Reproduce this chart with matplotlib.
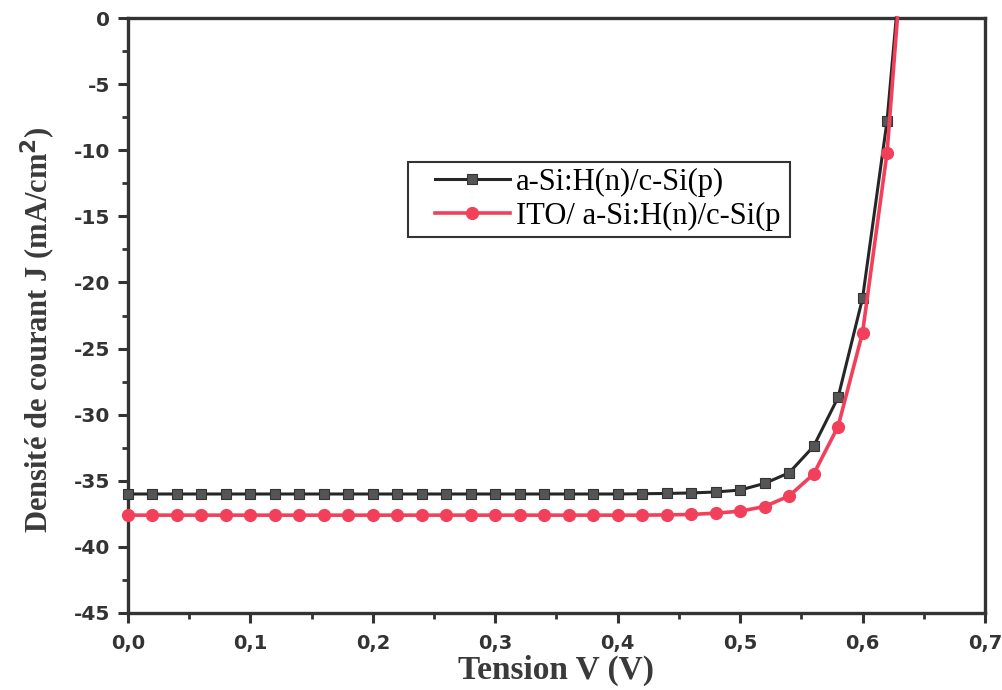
import matplotlib
matplotlib.use("Agg")
import matplotlib.pyplot as plt
from matplotlib.patches import Rectangle
from matplotlib.ticker import MultipleLocator, FuncFormatter

# Tension (V) - measured points, last one is where curve crosses J = 0
tension = [0.00, 0.02, 0.04, 0.06, 0.08, 0.10, 0.12, 0.14, 0.16, 0.18,
           0.20, 0.22, 0.24, 0.26, 0.28, 0.30, 0.32, 0.34, 0.36, 0.38,
           0.40, 0.42, 0.44, 0.46, 0.48, 0.50, 0.52, 0.54, 0.56, 0.58,
           0.60, 0.62]
v_end_black = 0.6275
v_end_red = 0.6285

j_black = [-36.0, -36.0, -36.0, -36.0, -36.0, -36.0, -36.0, -36.0, -36.0, -36.0,
           -36.0, -36.0, -36.0, -36.0, -36.0, -36.0, -36.0, -36.0, -36.0, -36.0,
           -36.0, -35.98, -35.96, -35.92, -35.85, -35.7, -35.2, -34.4, -32.4, -28.7,
           -21.2, -7.8]
j_red = [-37.6, -37.6, -37.6, -37.6, -37.6, -37.6, -37.6, -37.6, -37.6, -37.6,
         -37.6, -37.6, -37.6, -37.6, -37.6, -37.6, -37.6, -37.6, -37.6, -37.6,
         -37.6, -37.6, -37.58, -37.55, -37.45, -37.3, -36.95, -36.15, -34.5, -30.9,
         -23.8, -10.2]

labels = ["a-Si:H(n)/c-Si(p)", "ITO/ a-Si:H(n)/c-Si(p"]

serif = ["Liberation Serif", "DejaVu Serif"]
sans = ["DejaVu Sans"]

fig = plt.figure(figsize=(10.02, 6.90), dpi=100)
ax = fig.add_axes([0.1277, 0.1116, 0.8553, 0.8623])

black = "#262626"
red = "#f2405a"

ax.plot(tension + [v_end_black], j_black + [0.0], color=black, lw=2.2,
        marker="s", ms=7, mfc="#555555", mec="#333333", mew=0.8,
        markevery=list(range(len(tension))), clip_on=False, zorder=3,
        label=labels[0])
ax.plot(tension + [v_end_red], j_red + [0.0], color=red, lw=2.6,
        marker="o", ms=8.5, mfc=red, mec=red,
        markevery=list(range(len(tension))), clip_on=False, zorder=4,
        label=labels[1])

ax.set_xlim(0, 0.7)
ax.set_ylim(-45, 0)
ax.xaxis.set_major_locator(MultipleLocator(0.1))
ax.xaxis.set_minor_locator(MultipleLocator(0.05))
ax.yaxis.set_major_locator(MultipleLocator(5))
ax.yaxis.set_minor_locator(MultipleLocator(2.5))
ax.xaxis.set_major_formatter(FuncFormatter(lambda v, p: f"{v:.1f}".replace(".", ",")))
ax.yaxis.set_major_formatter(FuncFormatter(lambda v, p: f"{v:.0f}"))

for s in ax.spines.values():
    s.set_linewidth(2.4)
    s.set_color("#333333")

ax.tick_params(which="major", direction="out", length=7, width=2.2, color="#333333",
               top=False, right=False, pad=6)
ax.tick_params(axis="x", which="major", pad=8)
ax.tick_params(which="minor", direction="out", length=4, width=2.0, color="#333333",
               top=False, right=False)
for t in ax.get_xticklabels():
    t.set_family(sans)
    t.set_fontweight("bold")
    t.set_fontsize(14)
    t.set_color("#333333")
for t in ax.get_yticklabels():
    t.set_family(sans)
    t.set_fontweight("bold")
    t.set_fontsize(14.5)
    t.set_color("#333333")

ax.set_xlabel("Tension V (V)", family=serif, fontweight="bold", fontsize=24,
              color="#3a3a3a")
ax.xaxis.set_label_coords(0.4995, -0.071)
ax.set_ylabel("Densité de courant J (mA/cm$^{\\mathbf{2}}$)", family=serif,
              fontweight="bold", fontsize=22, color="#3a3a3a")
ax.yaxis.set_label_coords(-0.082, 0.476)

# legend frame drawn separately so the left padding matches
ax.add_patch(Rectangle((0.327, 0.632), 0.446, 0.126, transform=ax.transAxes,
                       fill=True, facecolor="white", edgecolor="#333333",
                       lw=1.5, zorder=5, clip_on=False))
leg = ax.legend(loc="center left", bbox_to_anchor=(0.358, 0.695),
                prop={"family": serif, "size": 22}, frameon=False,
                handlelength=2.45, handletextpad=0.2, borderaxespad=0,
                labelspacing=0.15, borderpad=0)
leg.set_zorder(6)

fig.savefig("out.png", dpi=100)
